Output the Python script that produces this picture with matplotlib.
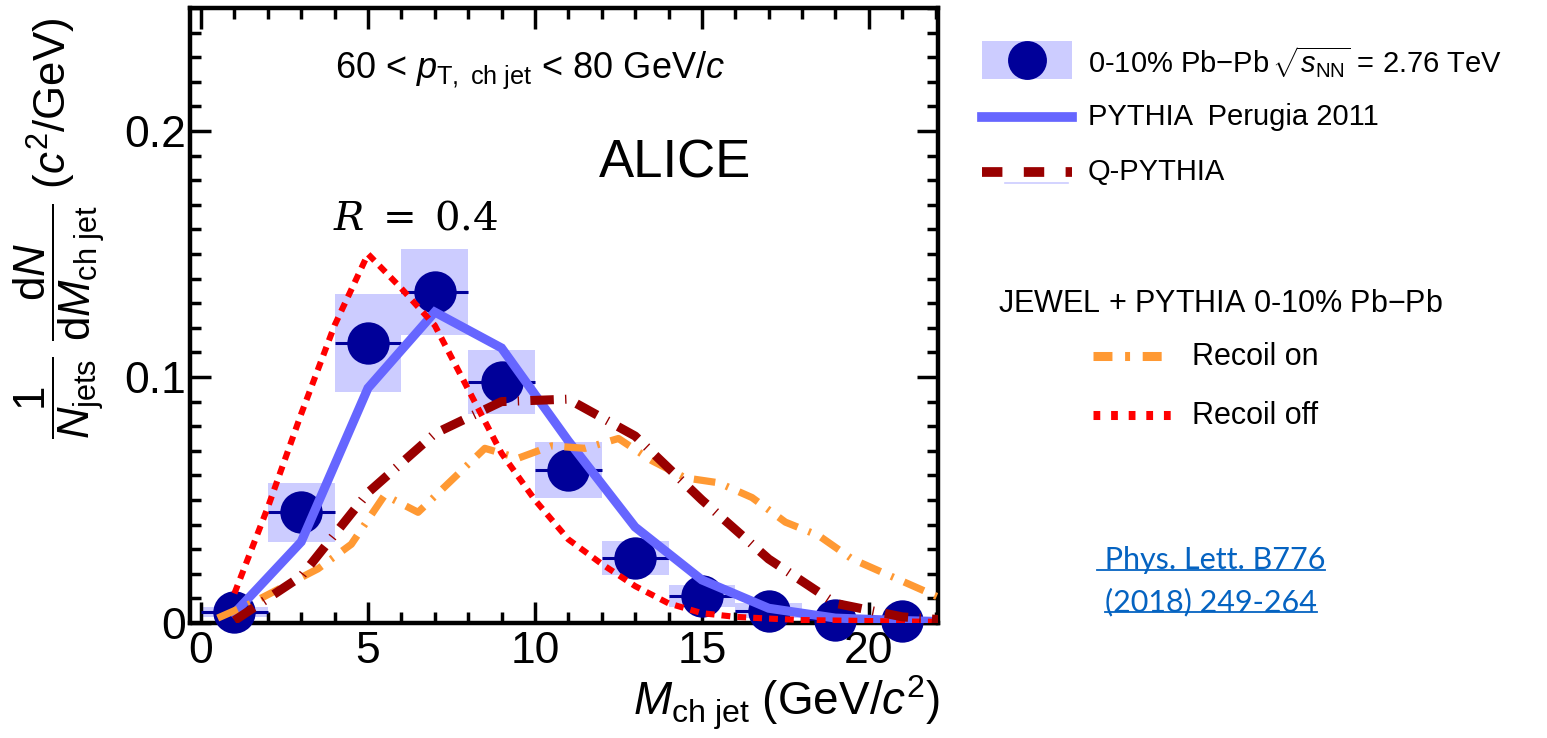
import matplotlib
matplotlib.use('Agg')
import matplotlib.pyplot as plt
from matplotlib.lines import Line2D
from matplotlib.patches import Rectangle
from matplotlib.ticker import MultipleLocator
import numpy as np

plt.rcParams['font.family'] = ['Liberation Sans', 'DejaVu Sans']
plt.rcParams['mathtext.fontset'] = 'custom'
plt.rcParams['mathtext.rm'] = 'Liberation Sans'
plt.rcParams['mathtext.it'] = 'Liberation Sans:italic'
plt.rcParams['mathtext.bf'] = 'Liberation Sans:bold'

# ALICE charged-jet mass, 0-10% Pb-Pb, 60 < pT < 80 GeV/c, R = 0.4
mass_bins = [1, 3, 5, 7, 9, 11, 13, 15, 17, 19, 21]
bin_half = 1.0
alice_y = [0.0045, 0.045, 0.1138, 0.1345, 0.098, 0.0622, 0.0264, 0.011, 0.005, 0.0012, 0.0008]
alice_sys = [0.002, 0.012, 0.020, 0.0175, 0.013, 0.0114, 0.007, 0.0043, 0.003, 0.001, 0.001]

# PYTHIA Perugia 2011
pythia_x = [1, 3, 5, 7, 9, 11, 13, 15, 17, 19, 21, 23]
pythia_y = [0.004, 0.033, 0.0955, 0.1264, 0.1118, 0.074, 0.039, 0.0175, 0.006, 0.002, 0.001, 0.0003]

# Q-PYTHIA
qpythia_x = [1, 3, 5, 7, 9, 11, 13, 15, 17, 19, 21, 23]
qpythia_y = [0.001, 0.019, 0.053, 0.077, 0.090, 0.091, 0.076, 0.050, 0.026, 0.008, 0.0025, 0.0005]

# JEWEL + PYTHIA, recoil on
jewel_on_x = [0.5, 1.5, 2.5, 3.5, 4.5, 5.5, 6.5, 7.5, 8.5, 9.5, 10.5, 11.5,
              12.5, 13.5, 14.5, 15.5, 16.5, 17.5, 18.5, 19.5, 20.5, 21.5, 22.5]
jewel_on_y = [0.002, 0.008, 0.015, 0.022, 0.032, 0.052, 0.045, 0.058, 0.071, 0.067, 0.072, 0.071,
              0.075, 0.066, 0.059, 0.057, 0.051, 0.041, 0.0355, 0.026, 0.020, 0.014, 0.008]

# JEWEL + PYTHIA, recoil off
jewel_off_x = [1, 2, 3, 4, 5, 6, 7, 8, 9, 10, 11, 12, 13, 14, 15, 16, 17, 18, 19, 20, 21, 22]
jewel_off_y = [0.012, 0.047, 0.085, 0.121, 0.150, 0.136, 0.121, 0.095, 0.069, 0.050, 0.034, 0.024,
               0.015, 0.008, 0.004, 0.0025, 0.0018, 0.0012, 0.001, 0.0008, 0.0006, 0.0005]

C_DATA = '#000099'
C_SYS = '#ccccff'
C_PYTHIA = '#6666ff'
C_QPYTHIA = '#990000'
C_ON = '#ff9933'
C_OFF = '#ff0000'

W, H = 1547, 738
fig = plt.figure(figsize=(W / 100, H / 100), dpi=100)
ax = fig.add_axes([190 / W, 1 - 623 / H, 748 / W, 615 / H])


def fp(x, y):
    # pixel position -> figure fraction
    return x / W, 1 - y / H


mb = np.array(mass_bins, dtype=float)
ay = np.array(alice_y)
asys = np.array(alice_sys)

ax.bar(mb, 2 * asys, bottom=ay - asys, width=2 * bin_half, color=C_SYS,
       edgecolor='none', zorder=1)
ax.errorbar(mb, ay, xerr=bin_half, fmt='none', ecolor=C_DATA, elinewidth=2.2,
            capsize=0, zorder=2)
ax.plot(mb, ay, 'o', color=C_DATA, ms=30.5, mec='none', zorder=3, clip_on=False)

ax.plot(pythia_x, pythia_y, '-', color=C_PYTHIA, lw=6.5, zorder=4,
        solid_joinstyle='miter')
ax.plot(jewel_on_x, jewel_on_y, color=C_ON, lw=5.2, zorder=5,
        dashes=(3.0, 1.6, 0.35, 1.6), dash_capstyle='butt')
ax.plot(jewel_off_x, jewel_off_y, color=C_OFF, lw=4.4, zorder=6,
        dashes=(1.45, 1.15), dash_capstyle='butt')
ax.plot(qpythia_x, qpythia_y, color=C_QPYTHIA, lw=6.5, zorder=7,
        dashes=(2.6, 1.25, 0.15, 1.25), dash_capstyle='butt')

ax.set_xlim(-0.33, 22.07)
ax.set_ylim(0, 0.25)
ax.xaxis.set_minor_locator(MultipleLocator(1))
ax.yaxis.set_minor_locator(MultipleLocator(0.01))
ax.set_xticks([0, 5, 10, 15, 20])
ax.set_xticklabels(['0', '5', '10', '15', '20'])
ax.set_yticks([0, 0.1, 0.2])
ax.set_yticklabels(['0', '0.1', '0.2'])
ax.tick_params(which='both', direction='in', top=True, right=True, width=2.5,
               labelsize=32)
ax.tick_params(which='major', length=15)
ax.tick_params(which='minor', length=8)
ax.tick_params(axis='x', pad=6)
ax.tick_params(axis='y', pad=3)
for s in ax.spines.values():
    s.set_linewidth(3.2)

fig.text(*fp(335, 70), r'60 < $p_{\rm T,\ ch\ jet}$ < 80 GeV/$c$',
         fontsize=26, va='center', ha='left')
fig.text(*fp(599, 178), 'ALICE', fontsize=38, va='baseline', ha='left')
fig.text(*fp(333, 230), r'$R\;=\;0.4$', fontsize=29, va='baseline', ha='left',
         math_fontfamily='dejavuserif')

fig.text(*fp(60, 228),
         r'$\dfrac{1}{N_{\rm jets}}\ \dfrac{{\rm d}N}{{\rm d}M_{\rm ch\ jet}}$ ($c^{2}$/GeV)',
         fontsize=31.5, rotation=90, ha='center', va='center')
fig.text(*fp(940, 716), r'$M_{\rm ch\ jet}$ (GeV/$c^{2}$)', fontsize=33,
         ha='right', va='baseline')

# legend block on the right
x0, y0 = fp(982, 79)
x1, y1 = fp(1072, 41)
fig.add_artist(Rectangle((x0, y0), x1 - x0, y1 - y0, transform=fig.transFigure,
                         color=C_SYS, lw=0))
fig.add_artist(Line2D([fp(1027, 60)[0]], [fp(1027, 60)[1]], marker='o', ms=28,
                      color=C_DATA, mec='none', transform=fig.transFigure))
fig.text(*fp(1088, 62), r'0-10% Pb$-$Pb$\,\sqrt{s_{\rm NN}}$ = 2.76 TeV',
         fontsize=21, va='center', ha='left')

lx = [fp(982, 0)[0], fp(1072, 0)[0]]
fig.add_artist(Line2D(lx, [fp(0, 117)[1]] * 2, color=C_PYTHIA, lw=7,
                      transform=fig.transFigure))
fig.text(*fp(1088, 117), 'PYTHIA  Perugia 2011', fontsize=21, va='center', ha='left')

fig.add_artist(Line2D(lx, [fp(0, 172)[1]] * 2, color=C_QPYTHIA, lw=7,
                      dashes=(2.1, 2.2), dash_capstyle='butt',
                      transform=fig.transFigure))
fig.add_artist(Line2D([fp(1005, 0)[0], fp(1068, 0)[0]], [fp(0, 183)[1]] * 2,
                      color=C_SYS, lw=1.2, transform=fig.transFigure))
fig.text(*fp(1088, 172), 'Q-PYTHIA', fontsize=21, va='center', ha='left')

fig.text(*fp(1220, 304), r'JEWEL + PYTHIA 0-10% Pb$-$Pb', fontsize=22,
         va='center', ha='center')
fig.add_artist(Line2D([fp(1093, 0)[0], fp(1163, 0)[0]], [fp(0, 356)[1]] * 2,
                      color=C_ON, lw=6.5, dashes=(2.1, 1.4, 0.55, 1.4),
                      dash_capstyle='butt', transform=fig.transFigure))
fig.text(*fp(1192, 357), 'Recoil on', fontsize=22, va='center', ha='left')
fig.add_artist(Line2D([fp(1093, 0)[0], fp(1172, 0)[0]], [fp(0, 415)[1]] * 2,
                      color=C_OFF, lw=6.5, dashes=(0.75, 1.2),
                      dash_capstyle='butt', transform=fig.transFigure))
fig.text(*fp(1192, 416), 'Recoil off', fontsize=22, va='center', ha='left')

ref_lines = [' Phys. Lett. B776', '(2018) 249-264']
ref_y = [560, 602]
ref_texts = [fig.text(*fp(1211, yy), s, fontsize=22, color='#0563c1',
                      family=['Lato', 'DejaVu Sans'], ha='center', va='center')
             for s, yy in zip(ref_lines, ref_y)]
fig.canvas.draw()
r = fig.canvas.get_renderer()
inv = fig.transFigure.inverted()
for t in ref_texts:
    bb = t.get_window_extent(renderer=r)
    (ux0, uy0), (ux1, _) = inv.transform([(bb.x0, bb.y0 + 4), (bb.x1, bb.y0)])
    fig.add_artist(Line2D([ux0, ux1], [uy0, uy0], color='#0563c1', lw=1.3,
                          transform=fig.transFigure))

fig.savefig('out.png', dpi=100)
